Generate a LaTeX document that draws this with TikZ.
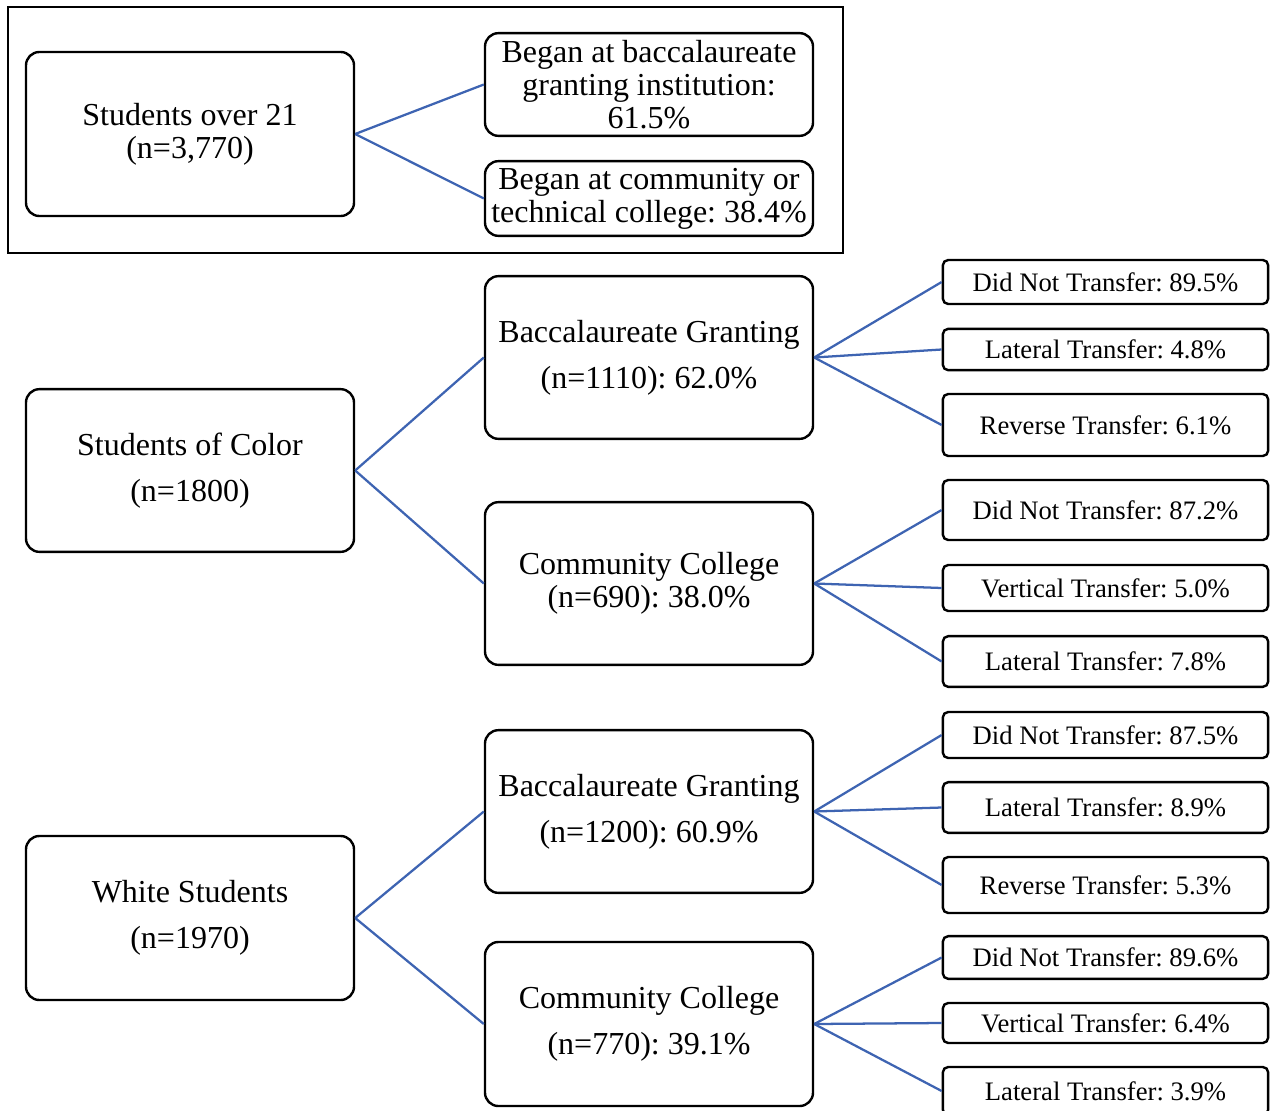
\documentclass[tikz,border=0pt]{standalone}
\usepackage{fontspec}
\setmainfont{Liberation Serif}
\frenchspacing
\definecolor{linkblue}{RGB}{62,100,178}
\tikzset{
  bx/.style={draw=black, line width=1.8pt, rounded corners=10pt, inner sep=0pt, align=center,
    font=\fontsize{24}{34.5}\selectfont, minimum width=246pt},
  tight/.style={font=\fontsize{24}{24.75}\selectfont},
  sbx/.style={draw=black, line width=1.8pt, rounded corners=4pt, inner sep=0pt, align=center,
    font=\fontsize{20}{24}\selectfont, minimum width=244pt},
  link/.style={draw=linkblue, line width=1.7pt},
}
\begin{document}
\begin{tikzpicture}[x=0.75pt,y=-0.75pt]
\useasboundingbox (0,0) rectangle (1270,1110);
\clip (0,0) rectangle (1270,1110);
% frame
\node[draw=black, line width=1.7pt, minimum width=626pt, minimum height=184.5pt, inner sep=0pt] (frame) at (425.5,130) {};
% top group
\node[bx, tight, minimum height=123pt] (over) at (190,134) {Students over 21\\(n=3,770)};
\node[bx, tight, minimum height=77pt] (tb) at (649,84.5) {Began at baccalaureate\\granting institution:\\61.5\%};
\node[bx, tight, minimum height=56pt] (tc) at (649,198.5) {Began at community or\\technical college: 38.4\%};
\draw[link] (over.east) -- (tb.west);
\draw[link] (over.east) -- (tc.west);
% students of color
\node[bx, minimum height=122pt] (col) at (190,470.5) {Students of Color\\(n=1800)};
\node[bx, minimum height=122pt] (cb) at (649,357.5) {Baccalaureate Granting\\(n=1110): 62.0\%};
\node[bx, tight, minimum height=122pt] (cc) at (649,583.5) {Community College\\(n=690): 38.0\%};
\draw[link] (col.east) -- (cb.west);
\draw[link] (col.east) -- (cc.west);
\node[sbx, minimum height=33pt] (cb1) at (1105.5,282) {Did Not Transfer: 89.5\%};
\node[sbx, minimum height=31pt] (cb2) at (1105.5,349.5) {Lateral Transfer: 4.8\%};
\node[sbx, minimum height=46.5pt] (cb3) at (1105.5,425) {Reverse Transfer: 6.1\%};
\node[sbx, minimum height=45pt] (cc1) at (1105.5,510) {Did Not Transfer: 87.2\%};
\node[sbx, minimum height=34.5pt] (cc2) at (1105.5,588) {Vertical Transfer: 5.0\%};
\node[sbx, minimum height=38pt] (cc3) at (1105.5,661.5) {Lateral Transfer: 7.8\%};
\foreach \t in {cb1,cb2,cb3} \draw[link] (cb.east) -- (\t.west);
\foreach \t in {cc1,cc2,cc3} \draw[link] (cc.east) -- (\t.west);
% white students
\node[bx, minimum height=123pt] (wh) at (190,918) {White Students\\(n=1970)};
\node[bx, minimum height=122pt] (wb) at (649,811.5) {Baccalaureate Granting\\(n=1200): 60.9\%};
\node[bx, minimum height=123pt] (wc) at (649,1024) {Community College\\(n=770): 39.1\%};
\draw[link] (wh.east) -- (wb.west);
\draw[link] (wh.east) -- (wc.west);
\node[sbx, minimum height=34.5pt] (wb1) at (1105.5,735) {Did Not Transfer: 87.5\%};
\node[sbx, minimum height=38pt] (wb2) at (1105.5,807.5) {Lateral Transfer: 8.9\%};
\node[sbx, minimum height=42pt] (wb3) at (1105.5,885) {Reverse Transfer: 5.3\%};
\node[sbx, minimum height=32pt] (wc1) at (1105.5,957.5) {Did Not Transfer: 89.6\%};
\node[sbx, minimum height=30pt] (wc2) at (1105.5,1023) {Vertical Transfer: 6.4\%};
\node[sbx, minimum height=36pt] (wc3) at (1105.5,1091) {Lateral Transfer: 3.9\%};
\foreach \t in {wb1,wb2,wb3} \draw[link] (wb.east) -- (\t.west);
\foreach \t in {wc1,wc2,wc3} \draw[link] (wc.east) -- (\t.west);
\end{tikzpicture}
\end{document}
